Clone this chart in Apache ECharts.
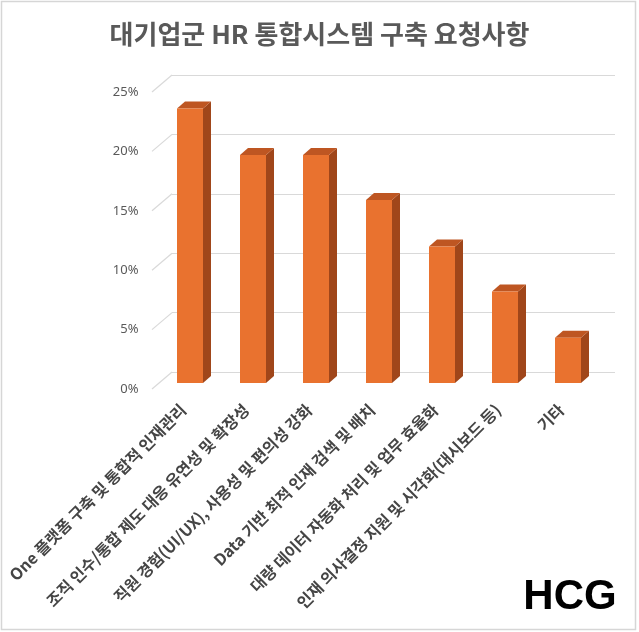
<!DOCTYPE html>
<html>
<head>
<meta charset="utf-8">
<script src="https://cdn.jsdelivr.net/npm/echarts@6/dist/echarts.min.js"></script>
<style>
html,body{margin:0;padding:0;background:#fff;}
#c{width:639px;height:632px;}
</style>
</head>
<body>
<div id="c"></div>
<script>
const titleText = '대기업군 HR 통합시스템 구축 요청사항';
const categories = [
  'One 플랫폼 구축 및 통합적 인재관리',
  '조직 인수/통합 제도 대응 유연성 및 확장성',
  '직원 경험(UI/UX), 사용성 및 편의성 강화',
  'Data 기반 최적 인재 검색 및 배치',
  '대량 데이터 자동화 처리 및 업무 효율화',
  '인재 의사결정 지원 및 시각화(대시보드 등)',
  '기타'
];
const values = [23.1, 19.2, 19.2, 15.4, 11.5, 7.7, 3.8];
const yTicks = [0, 5, 10, 15, 20, 25];
const yMax = 25;
const yStep = 5;
const logoText = 'HCG';

const chart = echarts.init(document.getElementById('c'), null, {renderer: 'canvas'});

const FRONT = '#E9722F', SIDE = '#A0461A', TOP = '#BE5622';
const GRID_LINE = '#d9d9d9';

const option = {
  backgroundColor: '#ffffff',
  animation: false,
  title: {
    text: titleText,
    left: 'center',
    top: 16,
    textStyle: {fontSize: 26, fontWeight: 'bold', color: '#595959', fontFamily: 'Noto Sans CJK KR'}
  },
  grid: [
    {left: 172, right: 24, top: 75, bottom: 260},      // back wall
    {left: 158.5, right: 39.5, top: 86, bottom: 249},  // bars
    {left: 151.5, right: 46.5, top: 92, bottom: 243}   // front plane (labels)
  ],
  xAxis: [
    {gridIndex: 0, type: 'value', min: 0, max: 1, show: false},
    {gridIndex: 1, type: 'category', data: categories, show: false},
    {gridIndex: 2, type: 'category', data: categories,
      axisLine: {show: false}, axisTick: {show: false},
      axisLabel: {interval: 0, rotate: 45, margin: 18, fontSize: 16, fontWeight: 'bold',
        color: '#454545', fontFamily: 'Noto Sans CJK KR'}}
  ],
  yAxis: [
    {gridIndex: 0, type: 'value', min: 0, max: yMax, interval: yStep,
      axisLine: {show: false}, axisTick: {show: false}, axisLabel: {show: false},
      splitLine: {show: true, lineStyle: {color: GRID_LINE, width: 1.2}}},
    {gridIndex: 1, type: 'value', min: 0, max: yMax, interval: yStep, show: false},
    {gridIndex: 2, type: 'value', min: 0, max: yMax, interval: yStep,
      axisLine: {show: false}, axisTick: {show: false}, splitLine: {show: false},
      axisLabel: {formatter: '{value}%', margin: 13, fontSize: 13, color: '#595959', fontFamily: 'Noto Sans'}}
  ],
  series: [
    {
      type: 'custom', xAxisIndex: 0, yAxisIndex: 0, silent: true,
      data: yTicks.map(v => [0, v]),
      renderItem: function (params, api) {
        const p = api.coord([0, api.value(1)]);
        return {type: 'line', shape: {x1: p[0] - 20, y1: p[1] + 17, x2: p[0], y2: p[1]},
          style: {stroke: GRID_LINE, lineWidth: 1.2}};
      }
    },
    {
      type: 'custom', xAxisIndex: 1, yAxisIndex: 1, silent: true,
      data: values.map((v, i) => [i, v]),
      renderItem: function (params, api) {
        const i = api.value(0), v = api.value(1);
        const top = api.coord([i, v]);
        const base = api.coord([i, 0]);
        const w = 26, dx = 8, dy = 7;
        const xl = top[0] - w / 2, xr = top[0] + w / 2;
        return {
          type: 'group',
          children: [
            {type: 'polygon', shape: {points: [[xr, top[1]], [xr + dx, top[1] - dy], [xr + dx, base[1] - dy], [xr, base[1]]]},
              style: {fill: SIDE}},
            {type: 'polygon', shape: {points: [[xl, top[1]], [xl + dx, top[1] - dy], [xr + dx, top[1] - dy], [xr, top[1]]]},
              style: {fill: TOP}},
            {type: 'rect', shape: {x: xl, y: top[1], width: w, height: base[1] - top[1]},
              style: {fill: FRONT}}
          ]
        };
      }
    }
  ],
  graphic: [
    {type: 'rect', shape: {x: 1.5, y: 1.5, width: 634, height: 628},
      style: {fill: 'none', stroke: '#d6d6d6', lineWidth: 1.5}, silent: true},
    {type: 'text', x: 570, y: 597,
      style: {text: logoText, textAlign: 'center', textVerticalAlign: 'middle',
        font: 'bold 42px "Liberation Sans"', fill: '#000000'}}
  ]
};
chart.setOption(option);
</script>
</body>
</html>
